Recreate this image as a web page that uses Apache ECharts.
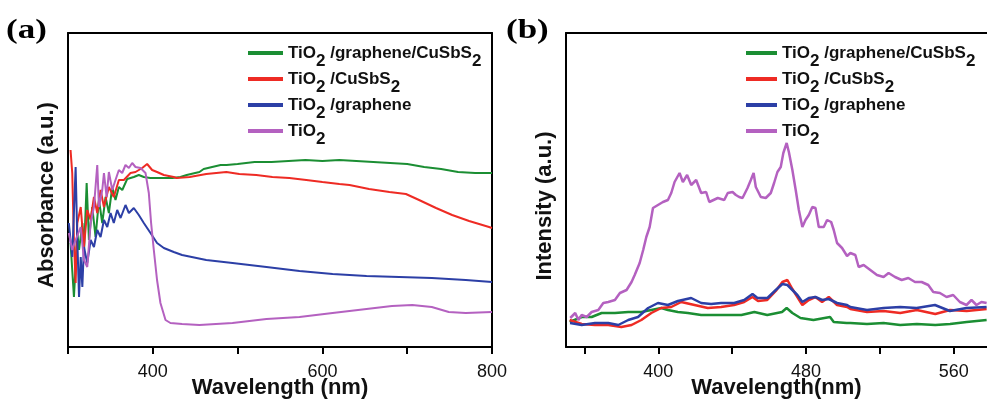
<!DOCTYPE html>
<html><head><meta charset="utf-8">
<script src="https://cdn.jsdelivr.net/npm/echarts@6/dist/echarts.min.js"></script>
<style>html,body{margin:0;padding:0;background:#fff}#c{width:987px;height:400px}</style>
</head><body><div id="c"></div>
<script>
// ---------- data ----------
const seriesNames = ['TiO2 /graphene/CuSbS2', 'TiO2 /CuSbS2', 'TiO2 /graphene', 'TiO2'];
const seriesColors = ['#1b8e33', '#ee2b24', '#2c3fa6', '#b461c0'];
const absLabelTicks = [400, 600, 800];
const plLabelTicks = [400, 480, 560];
const plTicks = [360, 400, 440, 480, 520, 560];

// (a) absorbance: [wavelength nm, absorbance a.u.]
const absGreen = [[303,104],[307,50],[311,114],[313,97],[317,124],[319,97],[322,164],[324.7,107],[328.6,140],[332.5,110],[336.5,147],[340.4,124],[344.3,150],[348.2,134],[352.2,160],[356,147],[360,160],[364,157],[369.8,168],[377.6,170],[383.5,172],[389.4,170],[397,169],[413,169],[423,169],[432.6,170],[440,172],[455,175],[460,178],[480,182],[487,182],[500,183],[520,185],[540,185],[560,186],[580,187],[600,186],[620,187],[640,186],[660,185],[680,184],[700,183],[720,180],[740,178],[760,175],[780,174],[800,174]];
const absRed = [[303,197],[305,174],[307,107],[309,64],[311,124],[315,140],[318.8,100],[322.7,137],[326.7,127],[330.6,150],[334.5,134],[338.4,157],[342.4,140],[348.2,160],[354,150],[360,167],[365.9,167],[373.7,174],[379.6,175],[387.5,179],[393.3,183],[399.2,177],[405,175],[413,172],[424.7,170],[428,169],[443.5,170],[463,173],[486.7,175],[502,173],[522,172],[541,170],[561,169],[581,167],[600,165],[620,163],[632,162],[655,158],[679,155],[698.5,153],[714,147],[734,139],[753,132],[773,126],[796.5,120],[800,119]];
const absBlue = [[301,124],[305,90],[309,180],[311,107],[313,50],[315,90],[316.9,60],[318.8,100],[322.7,84],[326.7,107],[330.6,100],[334.5,117],[338.4,110],[342.4,127],[346.3,120],[350.2,134],[354,124],[358,137],[362,129],[367.8,142],[371.8,134],[377.6,139],[383.5,132],[389.4,124],[397.3,114],[405,104],[413,99],[424.7,95],[434.5,92],[463,87],[494,84],[534,80],[573,76],[612,73],[652,71],[690.6,70],[729,69],[769,67],[800,65]];
const absPurple = [[301,114],[305,97],[309,107],[315,120],[318.8,87],[322.7,80],[326.7,124],[330.6,140],[334.5,182],[336.5,140],[340.4,157],[342.4,174],[345.5,150],[348.2,175],[352.2,157],[356,167],[360,177],[363.9,174],[367.8,182],[371.8,179],[375.7,184],[379.6,180],[385.5,179],[391.4,174],[395.3,154],[398,124],[401.2,97],[405,67],[409,44],[415,27],[420.8,24],[434.5,23],[455,22],[494,24],[534,28],[573,30],[612,34],[652,38],[682,41],[706,42],[729,40],[749,35],[769,34],[800,35]];

// (b) photoluminescence: [wavelength nm, intensity a.u.]
const plGreen = [[352,25],[358.5,30],[363.9,30],[369.3,34],[376.5,34],[383.7,35],[390.8,35],[396.2,37],[401.6,39],[405.2,37],[410.6,35],[416,34],[423.2,32],[430,32],[438,32],[445,32],[452,35],[459,32],[467,35],[469.5,39],[472.6,34],[477,29],[484,27],[493,30],[495,25],[502,24],[504,24],[513,23],[522,24],[531,22],[540,23],[550,22],[558,23],[567,25],[577.8,27]];
const plRed = [[352,27],[358.5,23],[365.7,22],[372.9,22],[380,20],[385.5,22],[390.8,27],[396.2,34],[401.6,39],[407,40],[412.4,45],[419.6,42],[426.8,39],[434,40],[441,42],[446.5,45],[451,50],[454,46],[459,47],[463.6,56],[467.2,65],[469.9,67],[472.6,58],[475.3,50],[478,42],[481.5,47],[485,50],[488.7,45],[492.3,50],[496.8,42],[502.2,40],[504,38],[513,35],[522,36],[531,34],[540,37],[550,33],[558,37],[567,36],[577.8,38]];
const plBlue = [[352.2,24],[358.5,22],[365.7,24],[372.9,24],[378.3,22],[383.7,27],[389,30],[394.5,39],[399.8,44],[405.2,42],[410.6,46],[417.8,49],[423.2,44],[428.6,43],[434,44],[441.1,44],[446.5,47],[451,53],[453.7,49],[459.1,49],[463.6,57],[467.2,63],[469.9,62],[472.6,57],[475.3,52],[478,45],[481.5,49],[485.1,50],[488.7,47],[492.3,48],[496.8,44],[502.2,42],[504,40],[513,37],[522,39],[531,40],[539.9,39],[549.8,42],[557.9,36],[566.9,39],[577.8,40]];
const plPurple = [[352.3,29],[355,34],[356.7,27],[358.5,32],[361.2,30],[363.9,35],[367.5,37],[370.2,44],[372.9,45],[376.5,47],[379.2,54],[382.8,57],[385.5,65],[387.2,72],[389.9,84],[391.8,97],[393.5,110],[395.3,120],[397.1,139],[399.8,142],[402.5,145],[405.2,147],[407,154],[408.8,165],[411.5,174],[413.3,165],[415.6,172],[417.8,162],[420.5,167],[423.2,154],[425.9,155],[427.6,145],[428.6,147],[432.2,149],[435.7,147],[437.6,154],[440.2,155],[442,152],[443.8,150],[445.6,149],[448.3,159],[450.1,167],[451.6,174],[452.8,160],[455.5,150],[458.2,149],[460.9,154],[462.7,164],[464.5,175],[466.3,180],[467.7,194],[469.5,204],[470.7,195],[472.6,177],[474.4,157],[476.1,137],[478,120],[479.7,127],[481.5,132],[483.4,140],[485.1,139],[486.9,120],[489.6,120],[491.4,127],[493.6,125],[495,117],[496.8,104],[499.5,99],[502.2,91],[504,94],[506.7,92],[508.5,80],[511.2,82],[514.8,77],[518.4,72],[522,70],[524.7,74],[528.2,70],[531.8,67],[535.4,69],[539,65],[542.6,65],[546.2,62],[548.9,55],[552.5,54],[556.1,50],[559.7,52],[563.3,45],[566.9,42],[569.6,47],[572.3,42],[575,45],[577.8,44]];

// ---------- chart ----------
const FF = '"Liberation Sans", Arial, sans-serif';
const black = '#111';
const lineStyle = { color: '#000', width: 2 };

function legendCfg(left, w) {
  return {
    orient: 'vertical', left: left, top: 31, itemGap: -8,
    icon: 'rect', itemWidth: w, itemHeight: 4,
    selectedMode: false,
    data: seriesNames,
    formatter: n => n.replace(/2/g, '{s|2}'),
    textStyle: {
      fontFamily: FF, fontWeight: 'bold', fontSize: 17, color: black, lineHeight: 20,
      rich: { s: { fontFamily: FF, fontWeight: 'bold', fontSize: 17, color: black, lineHeight: 20, padding: [17, 0, 0, 0] } }
    }
  };
}

function frameX(grid, min, max) {
  return { type: 'value', gridIndex: grid, position: 'top', min: min, max: max,
    axisLine: { show: true, onZero: false, lineStyle }, axisTick: { show: false },
    axisLabel: { show: false }, splitLine: { show: false } };
}

const nameStyle = { fontFamily: FF, fontWeight: 'bold', fontSize: 22, color: black };
const labelStyle = { fontFamily: FF, fontSize: 18, color: black, margin: 16 };

const absSeries = [absGreen, absRed, absBlue, absPurple];
const plSeries = [plGreen, plRed, plBlue, plPurple];

const series = [];
absSeries.forEach((d, i) => series.push({
  type: 'line', name: seriesNames[i], xAxisIndex: 0, yAxisIndex: 0, data: d,
  showSymbol: false, symbol: 'none', color: seriesColors[i],
  lineStyle: { width: 2, color: seriesColors[i] }, silent: true
}));
plSeries.forEach((d, i) => series.push({
  type: 'line', name: seriesNames[i], xAxisIndex: 2, yAxisIndex: 2, data: d,
  showSymbol: false, symbol: 'none', color: seriesColors[i],
  lineStyle: { width: 2.5, color: seriesColors[i] }, silent: true
}));

const option = {
  animation: false,
  backgroundColor: '#fff',
  grid: [
    { left: 68, top: 33, right: 495, bottom: 53, outerBoundsMode: 'none', containLabel: false },
    { left: 566, top: 33, right: 0, bottom: 53, outerBoundsMode: 'none', containLabel: false }
  ],
  legend: [legendCfg(243, 35), legendCfg(741, 31)],
  graphic: [
    { type: 'text', x: 6, y: 17, scaleX: 1.25, style: { text: '(a)', x: 0, y: 0, verticalAlign: 'top', font: 'bold 28px "Liberation Serif", serif', fill: '#000' } },
    { type: 'text', x: 506, y: 17, scaleX: 1.25, style: { text: '(b)', x: 0, y: 0, verticalAlign: 'top', font: 'bold 28px "Liberation Serif", serif', fill: '#000' } }
  ],
  xAxis: [
    { type: 'value', gridIndex: 0, min: 300, max: 800, interval: 100,
      axisLine: { show: true, onZero: false, lineStyle },
      axisTick: { show: true, inside: false, length: 7, lineStyle },
      axisLabel: Object.assign({ formatter: v => absLabelTicks.includes(v) ? String(v) : '' }, labelStyle),
      splitLine: { show: false },
      name: 'Wavelength (nm)', nameLocation: 'middle', nameGap: 30, nameMoveOverlap: false, nameTextStyle: nameStyle },
    frameX(0, 300, 800),
    { type: 'value', gridIndex: 1, min: 350, max: 578,
      axisLine: { show: true, onZero: false, lineStyle },
      axisTick: { show: true, inside: false, length: 7, lineStyle, customValues: plTicks },
      axisLabel: Object.assign({ customValues: plLabelTicks }, labelStyle),
      splitLine: { show: false },
      name: 'Wavelength(nm)', nameLocation: 'middle', nameGap: 30, nameMoveOverlap: false, nameTextStyle: nameStyle },
    frameX(1, 350, 578)
  ],
  yAxis: [
    { type: 'value', gridIndex: 0, min: 0, max: 314,
      axisLine: { show: true, onZero: false, lineStyle }, axisTick: { show: false },
      axisLabel: { show: false }, splitLine: { show: false },
      name: 'Absorbance (a.u.)', nameLocation: 'middle', nameGap: 10, nameMoveOverlap: false,
      nameTextStyle: Object.assign({ padding: [0, 10, 0, 0] }, nameStyle) },
    { type: 'value', gridIndex: 0, position: 'right', min: 0, max: 314,
      axisLine: { show: true, onZero: false, lineStyle }, axisTick: { show: false },
      axisLabel: { show: false }, splitLine: { show: false } },
    { type: 'value', gridIndex: 1, min: 0, max: 314,
      axisLine: { show: true, onZero: false, lineStyle }, axisTick: { show: false },
      axisLabel: { show: false }, splitLine: { show: false },
      name: 'Intensity (a.u.)', nameLocation: 'middle', nameGap: 10, nameMoveOverlap: false,
      nameTextStyle: Object.assign({ padding: [0, 32, 0, 0] }, nameStyle) }
  ],
  series: series
};

const chart = echarts.init(document.getElementById('c'), null, { renderer: 'canvas' });
chart.setOption(option);
</script>
</body></html>
